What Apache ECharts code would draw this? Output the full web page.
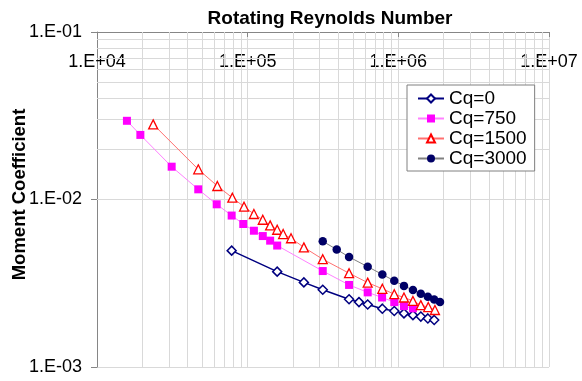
<!DOCTYPE html>
<html><head><meta charset="utf-8">
<script src="https://cdn.jsdelivr.net/npm/echarts@6/dist/echarts.min.js"></script>
<style>html,body{margin:0;padding:0;background:#fff}#c{width:582px;height:381px}</style>
</head><body><div id="c"></div>
<script>
// Tick values (decades)
const xTicks = [1e4, 1e5, 1e6, 1e7];
const yTicks = [1e-3, 1e-2, 1e-1];

// Series: Rotating Reynolds number (x) and moment coefficient (y)
const re0 = [7.83e4, 1.57e5, 2.36e5, 3.15e5, 4.71e5, 5.48e5, 6.26e5, 7.83e5, 9.40e5, 1.09e6, 1.25e6, 1.41e6, 1.57e6, 1.73e6];
const cm0 = [0.00495, 0.00371, 0.00320, 0.00289, 0.00254, 0.00244, 0.00236, 0.00223, 0.00216, 0.00209, 0.00204, 0.00200, 0.00195, 0.00191];

const re750 = [1.58e4, 1.94e4, 3.13e4, 4.70e4, 6.23e4, 7.83e4, 9.35e4, 1.10e5, 1.26e5, 1.41e5, 1.57e5, 3.15e5, 4.71e5, 6.26e5, 7.80e5, 9.40e5, 1.09e6, 1.25e6];
const cm750 = [0.0295, 0.0243, 0.0157, 0.0115, 0.00936, 0.00802, 0.00714, 0.00651, 0.00605, 0.00568, 0.00531, 0.00374, 0.00309, 0.00279, 0.00260, 0.00244, 0.00231, 0.00224];

const re1500 = [2.36e4, 4.70e4, 6.29e4, 7.91e4, 9.46e4, 1.10e5, 1.26e5, 1.41e5, 1.57e5, 1.72e5, 1.94e5, 2.36e5, 3.15e5, 4.71e5, 6.26e5, 7.83e5, 9.40e5, 1.09e6, 1.25e6, 1.41e6, 1.58e6, 1.75e6];
const cm1500 = [0.0281, 0.01514, 0.01204, 0.01025, 0.00906, 0.00819, 0.00757, 0.00701, 0.00660, 0.00622, 0.00587, 0.00518, 0.00440, 0.00363, 0.00319, 0.00293, 0.00272, 0.00260, 0.00248, 0.00234, 0.00228, 0.00219];

const re3000 = [3.15e5, 3.90e5, 4.71e5, 6.26e5, 7.83e5, 9.40e5, 1.09e6, 1.25e6, 1.41e6, 1.57e6, 1.73e6, 1.89e6];
const cm3000 = [0.00563, 0.00503, 0.00454, 0.00397, 0.00357, 0.00327, 0.00305, 0.00288, 0.00274, 0.00263, 0.00253, 0.00244];

const names = ['Cq=0', 'Cq=750', 'Cq=1500', 'Cq=3000'];

function pair(xs, ys) { return xs.map((x, i) => [x, ys[i]]); }
function fmt(v) {
  const e = Math.round(Math.log10(v));
  return '1.E' + (e < 0 ? '-' : '+') + String(Math.abs(e)).padStart(2, '0');
}
function minors(ticks) {
  const out = [];
  ticks.slice(0, -1).forEach(d => { for (let k = 2; k <= 9; k++) out.push(k * d); });
  return out;
}
const gridColor = '#d9d9d9';
const axisColor = '#868686';
const font = 'Liberation Sans, Arial, sans-serif';

const chart = echarts.init(document.getElementById('c'), null, {renderer: 'canvas'});
chart.setOption({
  animation: false,
  backgroundColor: '#fff',
  textStyle: {fontFamily: font},
  title: {
    text: 'Rotating Reynolds Number', left: 325, top: 4, textAlign: 'center',
    textStyle: {fontSize: 19, fontWeight: 'bold', color: '#000', fontFamily: font}
  },
  grid: {left: 97, right: 33, top: 32, bottom: 14, containLabel: false, outerBoundsMode: 'none'},
  legend: {
    orient: 'vertical', left: 407, top: 85, padding: [4, 8, 3, 10], itemGap: 1,
    itemWidth: 26, itemHeight: 10, backgroundColor: '#fff', borderColor: '#808080', borderWidth: 1,
    textStyle: {fontSize: 19, color: '#000', lineHeight: 19, fontFamily: font},
    data: names
  },
  xAxis: {
    type: 'log', logBase: 10, position: 'top', min: xTicks[0], max: xTicks[xTicks.length - 1], splitNumber: 3,
    axisLine: {show: true, onZero: false, lineStyle: {color: axisColor, width: 1}},
    axisTick: {show: true, inside: true, length: 5, lineStyle: {color: axisColor}},
    axisLabel: {inside: true, margin: 21, fontSize: 18, color: '#000', formatter: fmt, fontFamily: font,
                alignMinLabel: 'center', alignMaxLabel: 'center', hideOverlap: false},
    splitLine: {show: true, lineStyle: {color: gridColor, width: 1}}
  },
  yAxis: {
    type: 'log', logBase: 10, min: yTicks[0], max: yTicks[yTicks.length - 1], splitNumber: 2,
    name: 'Moment Coefficient', nameLocation: 'middle', nameGap: 68, nameMoveOverlap: false,
    nameTextStyle: {fontSize: 18.5, fontWeight: 'bold', color: '#000', fontFamily: font, padding: [0, 0, 0, 10]},
    axisLine: {show: true, onZero: false, lineStyle: {color: axisColor, width: 1}},
    axisTick: {show: true, length: 6, lineStyle: {color: axisColor}},
    axisLabel: {margin: 15, fontSize: 18, color: '#000', formatter: fmt, fontFamily: font},
    splitLine: {show: true, lineStyle: {color: gridColor, width: 1}}
  },
  series: [
    {
      name: 'minorGrid', type: 'line', data: [], silent: true, z: 1,
      markLine: {
        silent: true, z: 1, symbol: ['none', 'none'], label: {show: false}, animation: false,
        lineStyle: {color: gridColor, width: 1, type: 'solid'},
        emphasis: {disabled: true},
        data: minors(xTicks).map(v => ({xAxis: v})).concat(minors(yTicks).map(v => ({yAxis: v})))
      }
    },
    {
      name: names[0], type: 'line', z: 3, data: pair(re0, cm0), showAllSymbol: true,
      symbol: 'diamond', symbolSize: 9,
      lineStyle: {color: '#000080', width: 1.5},
      itemStyle: {color: '#fff', borderColor: '#000080', borderWidth: 1.5}
    },
    {
      name: names[1], type: 'line', z: 3, data: pair(re750, cm750), showAllSymbol: true,
      symbol: 'rect', symbolSize: 8,
      lineStyle: {color: '#ff80ff', width: 1},
      itemStyle: {color: '#ff00ff'}
    },
    {
      name: names[2], type: 'line', z: 3, data: pair(re1500, cm1500), showAllSymbol: true,
      symbol: 'triangle', symbolSize: 9,
      lineStyle: {color: '#ff7070', width: 1},
      itemStyle: {color: '#fff', borderColor: '#ff0000', borderWidth: 1.3}
    },
    {
      name: names[3], type: 'line', z: 3, data: pair(re3000, cm3000), showAllSymbol: true,
      symbol: 'circle', symbolSize: 8.5,
      lineStyle: {color: '#808080', width: 1},
      itemStyle: {color: '#000066'}
    }
  ]
});
</script>
</body></html>
